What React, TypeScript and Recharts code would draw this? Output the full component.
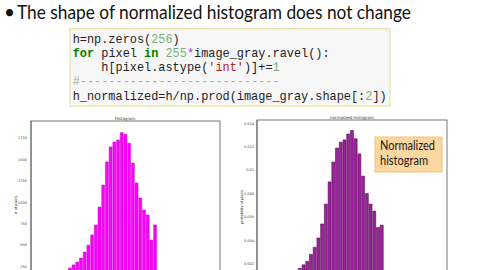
import React from "react";
import { BarChart, Bar, XAxis, YAxis } from "recharts";

// 51 bins of 5 gray levels each (0..254)
const bins: number[] = Array.from({ length: 51 }, (_, i) => i * 5);

const counts: number[] = [
  0, 0, 0, 5, 15, 30, 60, 100, 150, 200,
  234, 270, 304, 350, 420, 500, 620, 736, 946, 1203,
  1472, 1647, 1705, 1729, 1815, 1795, 1690, 1460, 1227, 1051,
  911, 853, 560, 736, 0, 0, 0, 0, 0, 0,
  0, 0, 0, 0, 0, 0, 0, 0, 0, 0, 0,
];

const normalized: number[] = [
  0, 0, 0, 0.00005, 0.0001, 0.0002, 0.0003, 0.0004, 0.0006, 0.0009,
  0.0012, 0.0016, 0.0019, 0.0022, 0.0028, 0.0034, 0.0042, 0.0054, 0.0071, 0.009,
  0.0107, 0.0119, 0.0124, 0.0126, 0.0131, 0.0134, 0.0127, 0.0114, 0.0095, 0.008,
  0.0071, 0.0065, 0.0051, 0.0053, 0, 0, 0, 0, 0, 0,
  0, 0, 0, 0, 0, 0, 0, 0, 0, 0, 0,
];

const countTicks: number[] = [0, 250, 500, 750, 1000, 1250, 1500, 1750];
const normTicks: number[] = [0, 0.002, 0.004, 0.006, 0.008, 0.01, 0.012, 0.014];

const leftData = bins.map((b, i) => ({ bin: b, count: counts[i] }));
const rightData = bins.map((b, i) => ({ bin: b, value: normalized[i] }));

const FRAME = "#555";
const tickStyle = { fontSize: 3.5, fill: "#444" };

type Tok = [string, string, boolean?];
const KW = "#008000";
const NUM = "#7aae7a";
const OP = "#aa22ff";
const STR = "#ba2121";
const TXT = "#222";
const CMT = "#9fb09f";

const codeLines: { indent: number; toks: Tok[] }[] = [
  { indent: 0, toks: [["h=np.zeros(", TXT], ["256", NUM], [")", TXT]] },
  {
    indent: 0,
    toks: [
      ["for", KW, true], [" pixel ", TXT], ["in", KW, true], [" ", TXT],
      ["255", NUM], ["*", OP], ["image_gray.ravel():", TXT],
    ],
  },
  {
    indent: 4,
    toks: [["h[pixel.astype(", TXT], ["'int'", STR], [")]+=", TXT], ["1", NUM]],
  },
  { indent: 0, toks: [["#----------------------------", CMT]] },
  {
    indent: 0,
    toks: [["h_normalized=h/np.prod(image_gray.shape[:", TXT], ["2", NUM], ["])", TXT]],
  },
];

export default function App() {
  return (
    <div
      style={{
        position: "fixed",
        left: 0,
        top: 0,
        width: 480,
        height: 270,
        overflow: "hidden",
        background: "#fff",
        fontFamily: "DejaVu Sans",
      }}
    >
      <div style={{ position: "absolute", left: 0, top: 0 }}>
        <BarChart
          width={230}
          height={300}
          data={leftData}
          margin={{ top: 121, right: 10, left: 0, bottom: 12 }}
          barCategoryGap={0.3}
        >
          <XAxis dataKey="bin" hide />
          <YAxis
            domain={[0, 1950]}
            ticks={countTicks}
            width={31}
            tickLine={false}
            tickSize={3}
            tickMargin={1}
            tick={tickStyle}
            axisLine={{ stroke: FRAME, strokeWidth: 0.8 }}
          />
          <Bar
            dataKey="count"
            fill="#ff00ff"
            stroke="#b000b0"
            strokeWidth={0.4}
            isAnimationActive={false}
          />
        </BarChart>
      </div>

      <div style={{ position: "absolute", left: 226, top: 0 }}>
        <BarChart
          width={230}
          height={299}
          data={rightData}
          margin={{ top: 120, right: 9, left: 0, bottom: 12 }}
          barCategoryGap={0.3}
        >
          <XAxis dataKey="bin" hide />
          <YAxis
            domain={[0, 0.0143]}
            ticks={normTicks}
            width={31}
            tickLine={false}
            tickSize={2}
            tickMargin={1}
            tick={tickStyle}
            axisLine={{ stroke: FRAME, strokeWidth: 0.8 }}
          />
          <Bar
            dataKey="value"
            fill="#a020a0"
            stroke="#3a003a"
            strokeWidth={0.5}
            isAnimationActive={false}
          />
        </BarChart>
      </div>

      <svg
        width={480}
        height={270}
        style={{ position: "absolute", left: 0, top: 0, pointerEvents: "none" }}
      >
        {/* slide title */}
        <text x={4} y={19} fontSize={19} fontFamily="Lato" fill="#111">
          •
        </text>
        <text
          x={17}
          y={19}
          fontSize={19}
          fontFamily="Lato"
          fill="#111"
          textLength={394}
          lengthAdjust="spacingAndGlyphs"
        >
          The shape of normalized histogram does not change
        </text>

        {/* code box */}
        <rect x={70} y={28.7} width={320} height={77.5} fill="#f7f7f7" stroke="#e9e1a6" strokeWidth={1.2} />
        {codeLines.map((ln, li) => (
          <text
            key={li}
            x={72.7 + ln.indent * 7.14}
            y={42.7 + li * 14.2}
            fontSize={11.9}
            fontFamily="Liberation Mono"
            style={{ whiteSpace: "pre" }}
          >
            {ln.toks.map((t, ti) => (
              <tspan key={ti} fill={t[1]} fontWeight={t[2] ? "bold" : "normal"}>
                {t[0]}
              </tspan>
            ))}
          </text>
        ))}

        {/* plot frames */}
        <rect x={31} y={121} width={189} height={167} fill="none" stroke={FRAME} strokeWidth={0.8} />
        <rect x={257} y={120} width={190} height={167} fill="none" stroke={FRAME} strokeWidth={0.8} />

        {/* chart titles and axis labels */}
        <text x={125} y={119.5} fontSize={4} textAnchor="middle" fill="#333" fontFamily="DejaVu Sans">
          Histogram
        </text>
        <text x={352} y={118.5} fontSize={4} textAnchor="middle" fill="#333" fontFamily="DejaVu Sans">
          normalized histogram
        </text>
        <text
          x={17}
          y={205}
          fontSize={3.5}
          textAnchor="middle"
          fill="#333"
          fontFamily="DejaVu Sans"
          transform="rotate(-90 17 205)"
        >
          # of pixels
        </text>
        <text
          x={243}
          y={207}
          fontSize={3.5}
          textAnchor="middle"
          fill="#333"
          fontFamily="DejaVu Sans"
          transform="rotate(-90 243 207)"
        >
          probability of pixels
        </text>

        {/* callout */}
        <rect x={375} y={137} width={67} height={35} fill="#fad7a0" stroke="#f1c57f" strokeWidth={1} />
        <text x={380} y={150} fontSize={12.5} fontFamily="Lato" fill="#1a1a1a" textLength={55} lengthAdjust="spacingAndGlyphs">
          Normalized
        </text>
        <text x={380} y={164.5} fontSize={12.5} fontFamily="Lato" fill="#1a1a1a" textLength={48} lengthAdjust="spacingAndGlyphs">
          histogram
        </text>
      </svg>
    </div>
  );
}
